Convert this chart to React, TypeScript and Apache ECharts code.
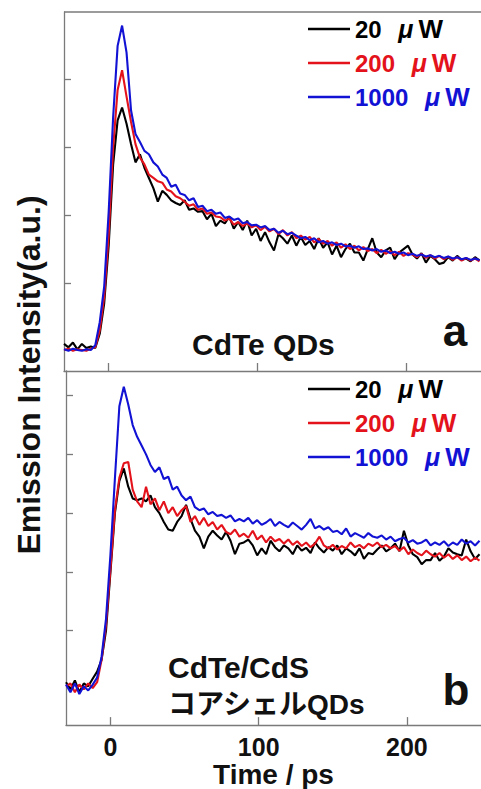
import React, { useEffect, useRef } from "react";
import * as echarts from "echarts";

const times = [
  -30, -27, -24, -21, -18, -15, -12, -9, -6, -3,
  0, 3, 6, 9, 12, 15, 18, 21, 24, 27,
  30, 33, 36, 39, 42, 45, 48, 51, 54, 57,
  60, 63, 66, 69, 72, 75, 78, 81, 84, 87,
  90, 93, 96, 99, 102, 105, 108, 111, 114, 117,
  120, 123, 126, 129, 132, 135, 138, 141, 144, 147,
  150, 153, 156, 159, 162, 165, 168, 171, 174, 177,
  180, 183, 186, 189, 192, 195, 198, 201, 204, 207,
  210, 213, 216, 219, 222, 225, 228, 231, 234, 237,
  240, 243, 246, 249,
];

// Panel a: CdTe QDs
const aBlack = [
  0.1, 0.05, 0.12, 0.02, 0.1, 0.04, 0.06, 0.04, 0.25, 0.7,
  1.55, 2.75, 3.4, 3.59, 3.35, 3.05, 2.78, 2.9, 2.7, 2.55,
  2.4, 2.2, 2.36, 2.3, 2.22, 2.18, 2.15, 2.22, 2.08, 2.1,
  2.05, 2.06, 1.94, 2.02, 1.84, 1.92, 1.88, 1.98, 1.8, 1.9,
  1.78, 1.92, 1.7, 1.8, 1.62, 1.75, 1.6, 1.48, 1.72, 1.66,
  1.58, 1.7, 1.55, 1.68, 1.56, 1.62, 1.5, 1.66, 1.52, 1.6,
  1.42, 1.55, 1.38, 1.5, 1.58, 1.45, 1.45, 1.33, 1.5, 1.66,
  1.45, 1.38, 1.48, 1.52, 1.35, 1.45, 1.5, 1.55, 1.42, 1.36,
  1.44, 1.3, 1.4, 1.35, 1.28, 1.3, 1.38, 1.33, 1.4, 1.34,
  1.36, 1.32, 1.38, 1.33,
];
const aRed = [
  0.01, 0.03, 0.0, 0.02, 0.01, 0.0, 0.03, 0.05, 0.3, 0.8,
  1.7, 3.0, 3.85, 4.14, 3.75, 3.38, 3.05, 2.85, 2.75, 2.6,
  2.55, 2.5, 2.48, 2.38, 2.35, 2.28, 2.25, 2.2, 2.14, 2.16,
  2.08, 2.1, 2.02, 2.04, 1.98, 1.97, 1.92, 1.95, 1.86, 1.9,
  1.84, 1.88, 1.82, 1.85, 1.78, 1.83, 1.76, 1.8, 1.72, 1.78,
  1.7, 1.75, 1.66, 1.7, 1.64, 1.68, 1.6, 1.65, 1.58, 1.62,
  1.55, 1.6, 1.52, 1.57, 1.5, 1.55, 1.48, 1.53, 1.47, 1.5,
  1.44, 1.49, 1.43, 1.47, 1.41, 1.46, 1.4, 1.44, 1.42, 1.38,
  1.43, 1.37, 1.41, 1.36, 1.4, 1.35, 1.39, 1.34, 1.38, 1.33,
  1.37, 1.33, 1.36, 1.32,
];
const aBlue = [
  0.02, 0.0, 0.03, 0.01, 0.0, 0.02, 0.01, 0.08, 0.42, 0.95,
  2.05, 3.45, 4.5, 4.8, 4.4, 3.55, 3.2, 3.08, 2.95, 2.9,
  2.78, 2.72, 2.6, 2.55, 2.42, 2.45, 2.32, 2.3, 2.22, 2.25,
  2.12, 2.14, 2.06, 2.08, 2.02, 2.04, 1.96, 1.98, 1.93, 1.95,
  1.88, 1.9, 1.85, 1.86, 1.82, 1.84, 1.78, 1.8, 1.74, 1.77,
  1.72, 1.74, 1.7, 1.66, 1.68, 1.63, 1.66, 1.6, 1.62, 1.58,
  1.6, 1.56, 1.58, 1.54, 1.55, 1.52, 1.54, 1.5, 1.51, 1.48,
  1.5, 1.46, 1.48, 1.44, 1.46, 1.43, 1.45, 1.41, 1.43, 1.4,
  1.42, 1.39, 1.41, 1.38, 1.4, 1.37, 1.39, 1.36, 1.38, 1.35,
  1.37, 1.34, 1.36, 1.34,
];

// Panel b: CdTe/CdS core-shell QDs
const bBlack = [
  0.12, 0.0, 0.15, -0.05, 0.1, 0.05, 0.18, 0.3, 0.5, 1.0,
  2.0, 3.0, 3.55, 3.76, 3.45, 3.25, 3.22, 3.25, 3.2, 3.3,
  3.1, 3.0, 2.85, 2.72, 2.7, 2.85, 2.95, 3.14, 2.9, 2.7,
  2.6, 2.4, 2.6, 2.7, 2.62, 2.55, 2.68, 2.53, 2.3, 2.48,
  2.5, 2.55, 2.45, 2.28, 2.4, 2.3, 2.53, 2.42, 2.35, 2.45,
  2.4, 2.3, 2.45, 2.36, 2.41, 2.32, 2.5, 2.4, 2.33, 2.42,
  2.36, 2.45, 2.3, 2.4, 2.35, 2.28, 2.4, 2.22, 2.32, 2.3,
  2.38, 2.45, 2.35, 2.4, 2.48, 2.35, 2.7, 2.45, 2.3, 2.25,
  2.13, 2.2, 2.2, 2.32, 2.19, 2.26, 2.4, 2.33, 2.3, 2.28,
  2.55, 2.35, 2.22, 2.3,
];
const bRed = [
  0.05, 0.1, -0.05, 0.08, 0.0, 0.1, 0.02, 0.12, 0.5, 1.1,
  2.05, 3.05, 3.6, 3.85, 3.87, 3.4, 3.2, 3.1, 3.45, 3.15,
  3.25, 3.05, 3.2, 3.0, 3.1, 2.95, 3.05, 3.12, 2.85, 2.95,
  2.8, 2.92, 2.78, 2.85, 2.72, 2.8, 2.68, 2.64, 2.72, 2.6,
  2.65, 2.58, 2.7, 2.55, 2.62, 2.5, 2.6, 2.52, 2.56, 2.48,
  2.55, 2.46, 2.52, 2.44, 2.5, 2.42, 2.48, 2.6, 2.45, 2.4,
  2.46, 2.38, 2.44, 2.4, 2.5, 2.42, 2.46, 2.4, 2.48, 2.44,
  2.5, 2.42, 2.46, 2.4, 2.44, 2.36, 2.42, 2.3, 2.38, 2.32,
  2.28, 2.36, 2.3, 2.26, 2.32, 2.24, 2.3, 2.22, 2.28, 2.2,
  2.26, 2.18, 2.24, 2.19,
];
const bBlue = [
  0.08, -0.05, 0.1, -0.08, 0.05, -0.02, 0.08, 0.2, 0.55, 1.2,
  2.3, 3.59, 4.82, 5.15, 4.85, 4.5, 4.3, 4.15, 4.0, 3.82,
  3.7, 3.78, 3.58, 3.62, 3.4, 3.45, 3.3, 3.22, 3.28, 3.1,
  3.05, 3.08, 2.98, 3.02, 2.95, 2.97, 2.92, 2.96, 2.86, 2.9,
  2.86, 2.92, 2.82, 2.88, 2.8, 2.84, 2.9, 2.78, 2.85, 2.8,
  2.76, 2.84, 2.78, 2.72, 2.8, 2.9, 2.74, 2.78, 2.72, 2.76,
  2.68, 2.7, 2.64, 2.74, 2.6, 2.66, 2.62, 2.58, 2.66, 2.6,
  2.58, 2.62, 2.55, 2.6, 2.52, 2.56, 2.58, 2.5, 2.54, 2.48,
  2.5, 2.55, 2.45, 2.5, 2.46, 2.52, 2.44, 2.5, 2.46, 2.55,
  2.48, 2.52, 2.45, 2.53,
];

const seriesNames = ["20 μW", "200 μW", "1000 μW"];
const colors = ["#000000", "#e3121b", "#1212d4"];
const xTicks = [0, 100, 200];
const xTickLabels = ["0", "100", "200"];
const yTicksA = [1, 2, 3, 4];
const yTicksB = [1, 2, 3, 4, 5];

const FONT = "'Liberation Sans', Arial, 'Noto Sans CJK JP', sans-serif";
const AXIS_COLOR = "#7a7a7a";

export default function App() {
  const ref = useRef<HTMLDivElement>(null);
  useEffect(() => {
    if (!ref.current) return;
    const chart = echarts.init(ref.current, undefined, { renderer: "svg" });
    const panels = [
      [aBlack, aRed, aBlue],
      [bBlack, bRed, bBlue],
    ];
    const series: any[] = [];
    panels.forEach((arrs, p) => {
      arrs.forEach((arr, k) => {
        series.push({
          type: "line",
          name: seriesNames[k],
          xAxisIndex: p,
          yAxisIndex: p,
          data: times.map((t, i) => [t, arr[i]]),
          symbol: "none",
          showSymbol: false,
          lineStyle: { color: colors[k], width: 2.1 },
          itemStyle: { color: colors[k] },
          z: 2 + k,
        });
      });
    });
    const xBase = (idx: number, labels: boolean) => ({
      type: "value",
      gridIndex: idx,
      min: -30,
      max: 250,
      axisLine: { show: true, onZero: false, lineStyle: { color: AXIS_COLOR, width: 1.3 } },
      axisTick: { show: true, inside: true, length: 8, customValues: xTicks, lineStyle: { color: AXIS_COLOR, width: 1.3 } },
      axisLabel: labels
        ? {
            show: true,
            customValues: xTicks,
            formatter: (v: number) => xTickLabels[xTicks.indexOf(v)] ?? "",
            fontSize: 25,
            fontWeight: "bold",
            color: "#111",
            fontFamily: FONT,
            margin: 9,
          }
        : { show: false },
      splitLine: { show: false },
    });
    const yBase = (idx: number, min: number, max: number, ticks: number[]) => ({
      type: "value",
      gridIndex: idx,
      min,
      max,
      axisLine: { show: true, onZero: false, lineStyle: { color: AXIS_COLOR, width: 1.3 } },
      axisTick: { show: true, inside: true, length: 7, customValues: ticks, lineStyle: { color: AXIS_COLOR, width: 1.3 } },
      axisLabel: { show: false },
      splitLine: { show: false },
    });
    const legendBase = (top: number) => ({
      data: seriesNames.map((n, i) => ({ name: n, textStyle: { color: colors[i] } })),
      orient: "vertical",
      left: 308,
      top,
      padding: 0,
      icon: "rect",
      itemWidth: 42,
      itemHeight: 2.5,
      itemGap: 8,
      selectedMode: false,
      formatter: (name: string) => {
        const num = name.split(" ")[0];
        return `${num} {u|μ}{w|W}`;
      },
      textStyle: {
        fontSize: 24,
        fontWeight: "bold",
        fontFamily: FONT,
        rich: {
          u: { fontSize: 25, fontWeight: "bold", fontStyle: "italic", fontFamily: FONT, padding: [0, 5, 0, 10] },
          w: { fontSize: 26, fontWeight: "bold", fontFamily: FONT },
        },
      },
    });
    const textStyle = (size: number) => ({
      fontSize: size,
      fontWeight: "bold",
      fontFamily: FONT,
      fill: "#111",
    });
    chart.setOption({
      animation: false,
      backgroundColor: "#ffffff",
      grid: [
        { left: 64, top: 12, right: 0, height: 359 },
        { left: 66, top: 371, right: 0, height: 359 },
      ],
      xAxis: [
        xBase(0, false),
        {
          ...xBase(1, true),
          name: "Time / ps",
          nameLocation: "middle",
          nameGap: 33,
          nameTextStyle: { fontSize: 28, fontWeight: "bold", color: "#111", fontFamily: FONT },
        },
      ],
      yAxis: [yBase(0, -0.3, 5, yTicksA), yBase(1, -0.61, 5.42, yTicksB)],
      legend: [legendBase(16), legendBase(376)],
      series,
      graphic: [
        {
          type: "line",
          shape: { x1: 64, y1: 12, x2: 481, y2: 12 },
          style: { stroke: AXIS_COLOR, lineWidth: 1.3 },
        },
        {
          type: "text",
          x: 29,
          y: 375,
          rotation: Math.PI / 2,
          style: { ...textStyle(32), text: "Emission Intensity(a.u.)", textAlign: "center", textVerticalAlign: "middle" },
        },
        {
          type: "text",
          x: 192,
          y: 344,
          style: { ...textStyle(30), text: "CdTe QDs", textAlign: "left", textVerticalAlign: "middle" },
        },
        {
          type: "text",
          x: 455,
          y: 330,
          style: { ...textStyle(44), text: "a", textAlign: "center", textVerticalAlign: "middle" },
        },
        {
          type: "text",
          x: 168,
          y: 667,
          style: { ...textStyle(30), text: "CdTe/CdS", textAlign: "left", textVerticalAlign: "middle" },
        },
        {
          type: "text",
          x: 168,
          y: 704,
          style: { ...textStyle(28), text: "コアシェルQDs", textAlign: "left", textVerticalAlign: "middle" },
        },
        {
          type: "text",
          x: 456,
          y: 689,
          style: { ...textStyle(44), text: "b", textAlign: "center", textVerticalAlign: "middle" },
        },
      ],
    });
    return () => chart.dispose();
  }, []);
  return <div ref={ref} style={{ width: 481, height: 789, position: "absolute", left: 0, top: 0 }} />;
}
